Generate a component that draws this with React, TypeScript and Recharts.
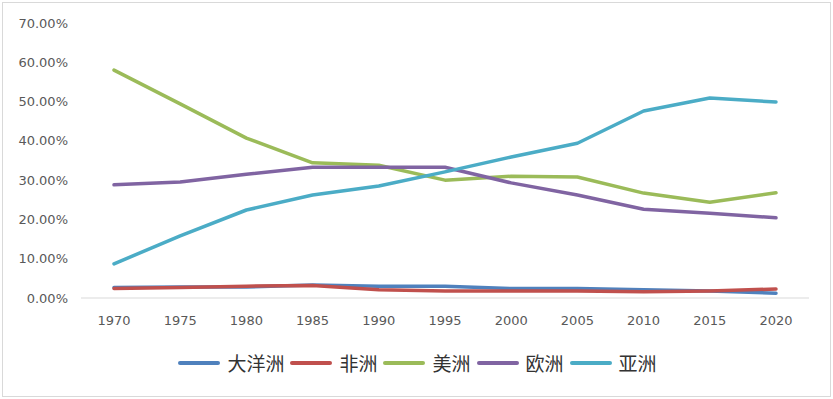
import React from 'react';
import { LineChart, Line, XAxis, YAxis } from 'recharts';

const years = ['1970', '1975', '1980', '1985', '1990', '1995', '2000', '2005', '2010', '2015', '2020'];
const oceania = [2.7, 2.8, 2.8, 3.3, 3.0, 3.0, 2.4, 2.4, 2.1, 1.8, 1.2];
const africa = [2.4, 2.7, 3.0, 3.2, 2.1, 1.8, 1.8, 1.8, 1.6, 1.8, 2.3];
const america = [58.0, 49.4, 40.7, 34.4, 33.8, 30.0, 31.0, 30.8, 26.7, 24.4, 26.8];
const europe = [28.8, 29.5, 31.5, 33.3, 33.3, 33.3, 29.3, 26.2, 22.6, 21.6, 20.4];
const asia = [8.7, 15.8, 22.4, 26.2, 28.5, 32.1, 35.9, 39.4, 47.6, 50.9, 49.9];
const yTicks = [0, 10, 20, 30, 40, 50, 60, 70];

const series = [
  { key: 'oceania', name: '大洋洲', color: '#4F81BD', values: oceania },
  { key: 'africa', name: '非洲', color: '#C0504D', values: africa },
  { key: 'america', name: '美洲', color: '#9BBB59', values: america },
  { key: 'europe', name: '欧洲', color: '#8064A2', values: europe },
  { key: 'asia', name: '亚洲', color: '#4BACC6', values: asia },
];

const data = years.map((year, i) => {
  const row: Record<string, string | number> = { year };
  series.forEach((s) => {
    row[s.key] = s.values[i];
  });
  return row;
});

const tickStyle = { fill: '#595959', fontSize: 13, fontFamily: 'DejaVu Sans' };

export default function App() {
  return (
    <div style={{ position: 'absolute', left: 0, top: 0, width: 833, height: 399, background: '#fff' }}>
      <div
        style={{
          position: 'absolute',
          left: 2,
          top: 2,
          width: 827,
          height: 393,
          border: '1px solid #D9D9D9',
        }}
      />
      <LineChart width={833} height={399} data={data} margin={{ top: 23, right: 24, bottom: 71, left: 0 }}>
        <XAxis
          dataKey="year"
          height={30}
          padding={{ left: 33, right: 33 }}
          tickLine={false}
          tickSize={0}
          tickMargin={18}
          axisLine={{ stroke: '#D9D9D9', strokeWidth: 1 }}
          tick={tickStyle}
          interval={0}
        />
        <YAxis
          width={81}
          domain={[0, 70]}
          ticks={yTicks}
          axisLine={false}
          tickLine={false}
          tickSize={0}
          tickMargin={13}
          tick={tickStyle}
          tickFormatter={(v) => `${Number(v).toFixed(2)}%`}
        />
        {series.map((s) => (
          <Line
            key={s.key}
            type="linear"
            dataKey={s.key}
            name={s.name}
            stroke={s.color}
            strokeWidth={3.5}
            strokeLinecap="round"
            strokeLinejoin="round"
            dot={false}
            activeDot={false}
            isAnimationActive={false}
          />
        ))}
      </LineChart>
      <div
        style={{
          position: 'absolute',
          left: 0,
          top: 351,
          width: 833,
          height: 24,
          display: 'flex',
          justifyContent: 'center',
          alignItems: 'center',
          fontFamily: '"Noto Sans CJK SC"',
          fontSize: 19,
          color: '#333333',
          paddingLeft: 2,
          boxSizing: 'border-box',
        }}
      >
        {series.map((s, i) => (
          <div key={s.key} style={{ display: 'flex', alignItems: 'center', marginLeft: i === 0 ? 0 : 6 }}>
            <div style={{ width: 42, height: 4, borderRadius: 2, background: s.color, marginRight: 7 }} />
            <span style={{ lineHeight: '24px' }}>{s.name}</span>
          </div>
        ))}
      </div>
    </div>
  );
}
